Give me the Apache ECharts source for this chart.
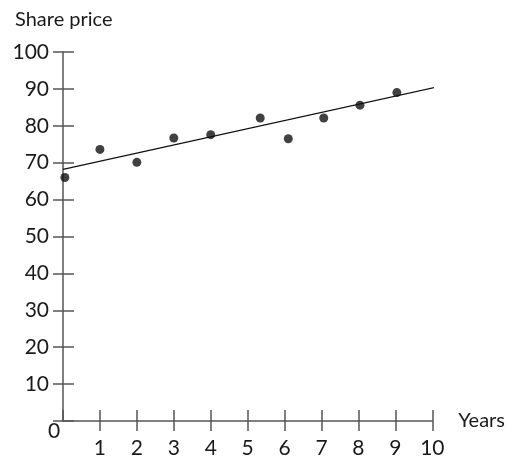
<!DOCTYPE html>
<html><head><meta charset="utf-8">
<script src="https://cdn.jsdelivr.net/npm/echarts@6/dist/echarts.min.js"></script>
<style>html,body{margin:0;padding:0;background:#fff}#c{width:508px;height:459px}</style>
</head><body><div id="c"></div>
<script>
const years = [0.05, 1.0, 2.0, 3.0, 4.0, 5.34, 6.1, 7.06, 8.04, 9.04];
const prices = [66.0, 73.6, 70.1, 76.7, 77.6, 82.1, 76.5, 82.1, 85.6, 89.0];
const trendX = [0, 10.15];
const trendY = [68.2, 90.6];
const xTicks = [0, 10, 1];
const yTicks = [0, 100, 10];

const font = 'Lato, "Open Sans", sans-serif';
const fs = 21;
const axisColor = '#555';
const textColor = '#1a1a1a';

const scatterData = years.map((x, i) => [x, prices[i]]);
const lineData = trendX.map((x, i) => [x, trendY[i]]);

function xAxisBase(extra) {
  return Object.assign({
    type: 'value', min: xTicks[0], max: xTicks[1], interval: xTicks[2],
    splitLine: { show: false },
    axisLine: { show: true, onZero: false, lineStyle: { color: axisColor, width: 1.5 } }
  }, extra);
}
function yAxisBase(extra) {
  return Object.assign({
    type: 'value', min: yTicks[0], max: yTicks[1], interval: yTicks[2],
    splitLine: { show: false },
    axisLine: { show: true, onZero: false, lineStyle: { color: axisColor, width: 1.5 } }
  }, extra);
}

const chart = echarts.init(document.getElementById('c'));
chart.setOption({
  animation: false,
  title: {
    text: 'Share price', left: 10, top: 5,
    textStyle: { fontFamily: font, fontSize: 20, fontWeight: 'normal', color: textColor }
  },
  grid: { left: 63, right: 72, top: 52, bottom: 36 },
  xAxis: [
    xAxisBase({
      name: 'Years', nameLocation: 'end', nameGap: 26,
      nameTextStyle: { fontFamily: font, fontSize: 20, color: textColor, align: 'left', verticalAlign: 'middle' },
      axisTick: { show: true, inside: false, length: 10, lineStyle: { color: axisColor, width: 1.5 } },
      axisLabel: { show: true, showMinLabel: false, margin: 17, fontFamily: font, fontSize: fs, color: textColor }
    }),
    xAxisBase({
      position: 'bottom',
      axisLine: { show: false },
      axisTick: { show: true, inside: true, length: 11, lineStyle: { color: axisColor, width: 1.5 } },
      axisLabel: { show: false }
    })
  ],
  yAxis: [
    yAxisBase({
      axisTick: { show: true, inside: false, length: 10, lineStyle: { color: axisColor, width: 1.5 } },
      axisLabel: {
        show: true, margin: 14, fontFamily: font, fontSize: fs, color: textColor,
        formatter: v => v === 0 ? '{z|0}' : String(v),
        rich: { z: { fontFamily: font, fontSize: fs, color: textColor, padding: [20, 0, 0, 0], width: 1, align: 'left' } }
      }
    }),
    yAxisBase({
      position: 'left',
      axisLine: { show: false },
      axisTick: { show: true, inside: true, length: 11, lineStyle: { color: axisColor, width: 1.5 } },
      axisLabel: { show: false }
    })
  ],
  series: [
    {
      type: 'line', data: lineData, xAxisIndex: 0, yAxisIndex: 0,
      showSymbol: false, symbol: 'none', clip: false,
      lineStyle: { color: '#111', width: 1.2 }
    },
    {
      type: 'scatter', data: scatterData, xAxisIndex: 0, yAxisIndex: 0,
      symbolSize: 9, itemStyle: { color: '#111' }
    }
  ]
});
</script></body></html>
